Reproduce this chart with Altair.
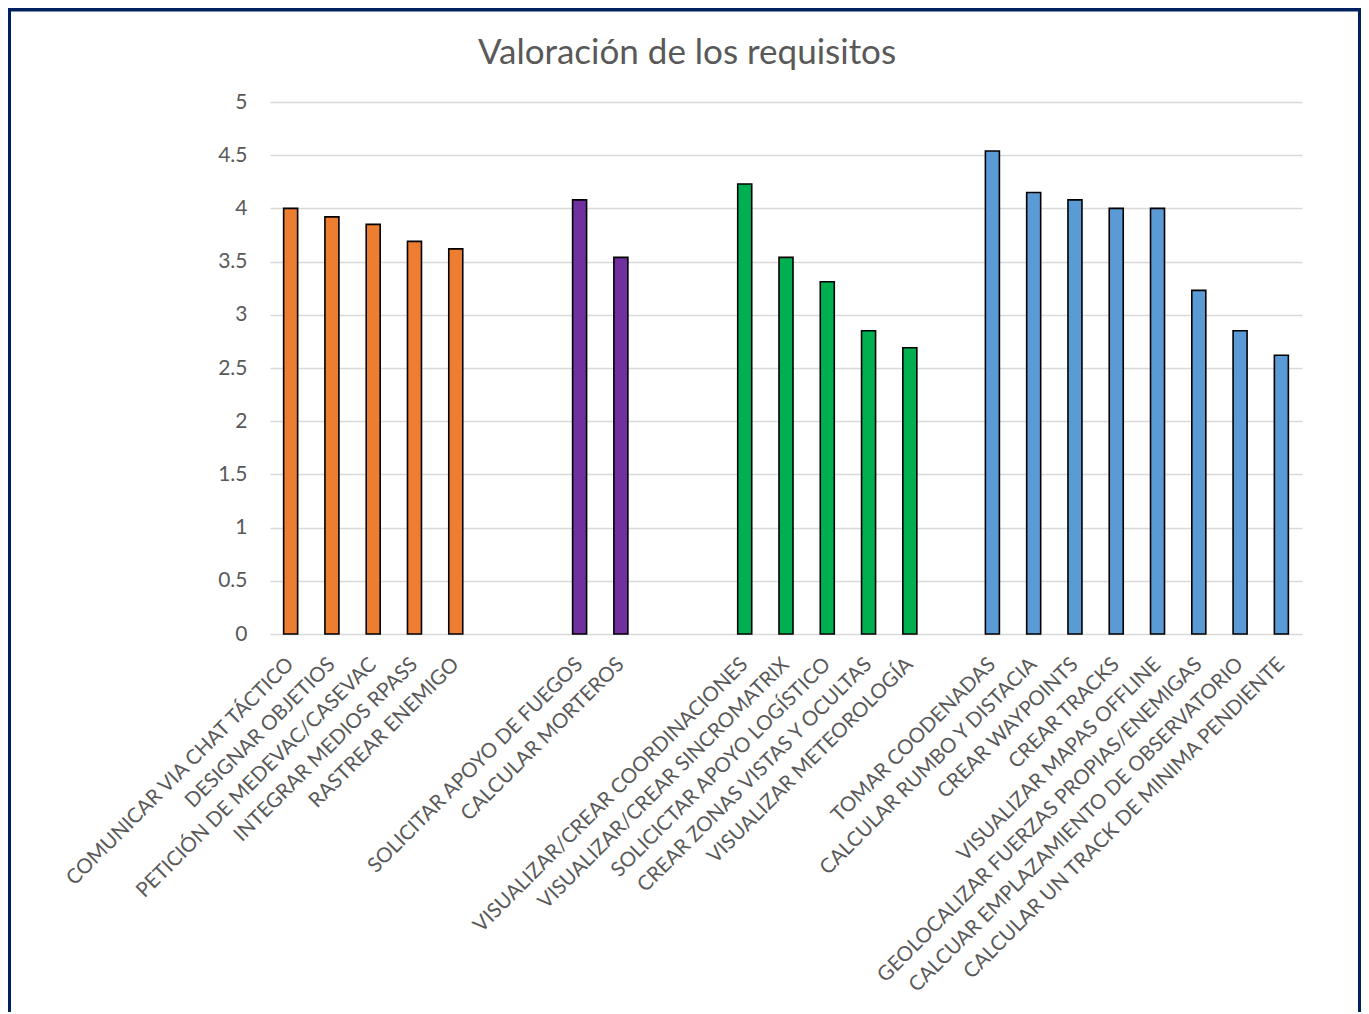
import altair as alt
import pandas as pd

categorias = [
    "COMUNICAR VIA CHAT TÁCTICO", "DESIGNAR OBJETIOS", "PETICIÓN DE MEDEVAC/CASEVAC",
    "INTEGRAR MEDIOS RPASS", "RASTREAR ENEMIGO", " ", "  ",
    "SOLICITAR APOYO DE FUEGOS", "CALCULAR MORTEROS", "   ", "    ",
    "VISUALIZAR/CREAR COORDINACIONES", "VISUALIZAR/CREAR SINCROMATRIX",
    "SOLICICTAR APOYO LOGÍSTICO", "CREAR ZONAS VISTAS Y OCULTAS",
    "VISUALIZAR METEOROLOGÍA", "     ",
    "TOMAR COODENADAS", "CALCULAR RUMBO Y DISTACIA", "CREAR WAYPOINTS", "CREAR TRACKS",
    "VISUALIZAR MAPAS OFFLINE", "GEOLOCALIZAR FUERZAS PROPIAS/ENEMIGAS",
    "CALCUAR EMPLAZAMIENTO DE OBSERVATORIO", "CALCULAR UN TRACK DE MINIMA PENDIENTE",
]
valores = [
    4.00, 3.92, 3.85, 3.69, 3.62, None, None,
    4.08, 3.54, None, None,
    4.23, 3.54, 3.31, 2.85, 2.69, None,
    4.54, 4.15, 4.08, 4.00, 4.00, 3.23, 2.85, 2.62,
]
grupos = [
    "A", "A", "A", "A", "A", None, None,
    "B", "B", None, None,
    "C", "C", "C", "C", "C", None,
    "D", "D", "D", "D", "D", "D", "D", "D",
]
grupo_dominio = ["A", "B", "C", "D"]
grupo_colores = ["#ED7D31", "#7030A0", "#00B050", "#5B9BD5"]
y_ticks = [0, 0.5, 1, 1.5, 2, 2.5, 3, 3.5, 4, 4.5, 5]

df = pd.DataFrame({"categoria": categorias, "valor": valores, "grupo": grupos})
df_bars = df.dropna()

W, H = 1032, 532
PAD_L, PAD_T = 262, 94
SVG_W, SVG_H = 1353, 1004

bars = alt.Chart(df_bars).mark_bar(
    width=14, stroke="black", strokeWidth=1.6
).encode(
    x=alt.X("categoria:N", sort=categorias,
            scale=alt.Scale(domain=categorias, paddingInner=0, paddingOuter=0),
            axis=alt.Axis(title=None, labelAngle=-45, labelAlign="right",
                          labelBaseline="middle", labelFontSize=20.5,
                          labelFont="Lato", labelColor="#595959",
                          labelPadding=27, labelLimit=700, ticks=False,
                          domain=False, grid=False, labelOverlap=False)),
    y=alt.Y("valor:Q", scale=alt.Scale(domain=[0, 5], nice=False),
            axis=alt.Axis(title=None, values=y_ticks, format="~g",
                          labelFontSize=21, labelFont="Lato",
                          labelColor="#595959", labelPadding=23,
                          ticks=False, domain=False, grid=True,
                          gridColor="#D9D9D9", gridWidth=1.5)),
    color=alt.Color("grupo:N", scale=alt.Scale(domain=grupo_dominio, range=grupo_colores),
                    legend=None),
)

borde = alt.Chart(pd.DataFrame({"b": [1]})).mark_rect(
    fill=None, stroke="#002060", strokeWidth=6
).encode(
    x=alt.value(-PAD_L),
    x2=alt.value(SVG_W - PAD_L),
    y=alt.value(-PAD_T + 0.5),
    y2=alt.value(H + 500),
)

chart = alt.layer(bars, borde).properties(
    width=W, height=H,
    autosize=alt.AutoSizeParams(type="none"),
    padding={"left": PAD_L, "top": PAD_T, "right": SVG_W - PAD_L - W, "bottom": SVG_H - PAD_T - H},
    title=alt.TitleParams("Valoración de los requisitos", fontSize=35, font="Lato",
                          fontWeight="normal", color="#595959", anchor="middle",
                          dx=-99, offset=-65),
    background="white",
).configure_view(stroke=None)

chart.save("out.html", embed_options={"renderer": "svg", "actions": False})
